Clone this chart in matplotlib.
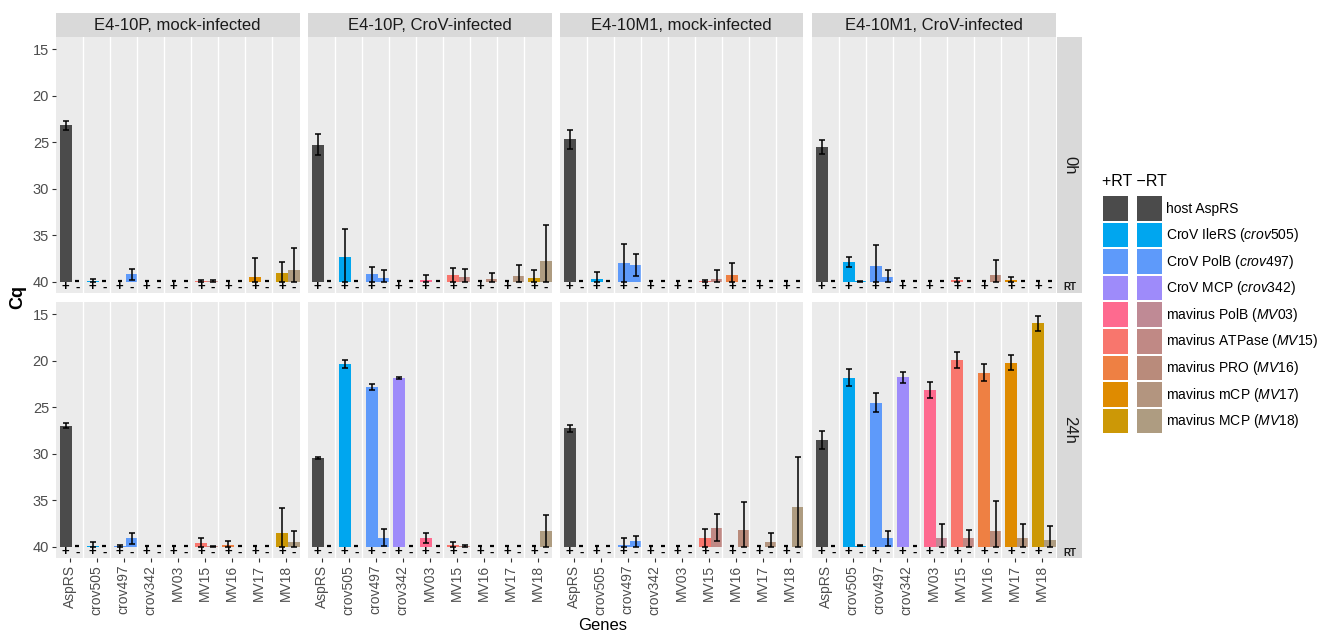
import matplotlib
matplotlib.use("Agg")
import matplotlib.pyplot as plt
from matplotlib.patches import Rectangle

plt.rcParams['font.family'] = ['Liberation Sans', 'DejaVu Sans']
plt.rcParams['mathtext.fontset'] = 'custom'
plt.rcParams['mathtext.rm'] = 'Liberation Sans'
plt.rcParams['mathtext.it'] = 'Liberation Sans:italic'

# ---------------- data ----------------
genes = ["AspRS", "crov505", "crov497", "crov342", "MV03", "MV15", "MV16", "MV17", "MV18"]
samples = ["E4-10P, mock-infected", "E4-10P, CroV-infected",
           "E4-10M1, mock-infected", "E4-10M1, CroV-infected"]
times = ["0h", "24h"]
N = None

# mean Cq, one list per sample (order as in `samples`), one value per gene; None = not detected
cq_0h_plus = [
    [23.2, 39.9, N, N, N, 39.9, N, 39.45, 39.1],
    [25.25, 37.3, 39.2, N, 39.8, 39.3, N, N, 39.55],
    [24.7, 39.65, 37.95, N, N, 39.9, 39.3, N, N],
    [25.55, 37.9, 38.3, N, N, 39.8, N, 39.8, N],
]
sd_0h_plus = [
    [0.5, 0.2, N, N, N, 0.15, N, 2.0, 1.25],
    [1.15, 3.0, 0.8, N, 0.5, 0.8, N, N, 0.85],
    [1.0, 0.75, 2.05, N, N, 0.1, 1.3, N, N],
    [0.75, 0.55, 2.3, N, N, 0.25, N, 0.35, N],
]
cq_0h_minus = [
    [N, N, 39.2, N, N, 39.9, N, N, 38.75],
    [N, N, 39.55, N, N, 39.5, 39.7, 39.35, 37.8],
    [N, N, 38.2, N, N, 39.7, N, N, N],
    [N, 39.95, 39.5, N, N, N, 39.25, N, N],
]
sd_0h_minus = [
    [N, N, 0.6, N, N, 0.15, N, N, 2.35],
    [N, N, 0.8, N, N, 0.9, 0.7, 1.15, 3.9],
    [N, N, 1.2, N, N, 0.95, N, N, N],
    [N, 0.05, 0.75, N, N, N, 1.55, N, N],
]
cq_24h_plus = [
    [27.0, 39.9, 39.95, N, N, 39.6, 39.85, N, 38.5],
    [30.43, 20.37, 22.8, 21.9, 39.03, 39.8, N, N, N],
    [27.28, N, 39.8, N, N, 39.1, N, N, N],
    [28.53, 21.84, 24.5, 21.8, 23.16, 19.94, 21.3, 20.2, 16.0],
]
sd_24h_plus = [
    [0.25, 0.45, 0.2, N, N, 0.5, 0.5, N, 2.7],
    [0.1, 0.43, 0.3, 0.1, 0.55, 0.35, N, N, N],
    [0.35, N, 0.7, N, N, 1.0, N, N, N],
    [1.0, 0.9, 1.05, 0.6, 0.85, 0.85, 0.9, 0.8, 0.8],
]
cq_24h_minus = [
    [N, N, 39.1, N, N, 39.95, N, N, 39.45],
    [N, N, 39.03, N, N, 39.9, N, N, 38.3],
    [N, N, 39.4, N, N, 37.95, 38.2, 39.5, 35.7],
    [N, 39.9, 39.1, N, 39.1, 39.1, 38.27, 39.1, 39.3],
]
sd_24h_minus = [
    [N, N, 0.6, N, N, 0.05, N, N, 1.1],
    [N, N, 0.93, N, N, 0.1, N, N, 1.7],
    [N, N, 0.6, N, N, 1.45, 3.0, 1.0, 5.3],
    [N, 0.05, 0.8, N, 1.6, 0.9, 3.2, 1.6, 1.5],
]

legend_names = ["host AspRS", "CroV IleRS", "CroV PolB", "CroV MCP", "mavirus PolB",
                "mavirus ATPase", "mavirus PRO", "mavirus mCP", "mavirus MCP"]
legend_ids = [None, "crov505", "crov497", "crov342", "MV03", "MV15", "MV16", "MV17", "MV18"]
colors_plus = ["#4B4B4B", "#00A6EF", "#5E9AFA", "#9E8BFA", "#FE6A8F",
               "#F8766D", "#EE8043", "#DF8B00", "#CC9806"]
colors_minus = ["#4B4B4B", "#00A6EF", "#5E9AFA", "#9E8BFA", "#BF8A95",
                "#C08985", "#B98B7B", "#B3957F", "#AE9C81"]

yticks = [15, 20, 25, 30, 35, 40]

data = {
    "0h": (cq_0h_plus, sd_0h_plus, cq_0h_minus, sd_0h_minus),
    "24h": (cq_24h_plus, sd_24h_plus, cq_24h_minus, sd_24h_minus),
}

# ---------------- layout ----------------
W, H = 1317, 636
fig = plt.figure(figsize=(W / 100, H / 100), dpi=100)


def fbox(x0, y0, x1, y1):
    return [x0 / W, 1 - y1 / H, (x1 - x0) / W, (y1 - y0) / H]


def fpt(x, y):
    return x / W, 1 - y / H


col_x = [(56, 299.5), (308, 551.5), (560, 803.5), (812, 1055.5)]
row_y = [(37, 293), (302, 558)]
GW = 2.4          # width of one gene block
XP, XM, BW = 0.85, 1.9, 1.05
YLIM = (41.2, 13.7)
ROW_Y = 40.6

for r, t in enumerate(times):
    cqp, sdp, cqm, sdm = data[t]
    for c, s in enumerate(samples):
        x0, x1 = col_x[c]
        y0, y1 = row_y[r]
        ax = fig.add_axes(fbox(x0, y0, x1, y1))
        ax.set_facecolor("#EBEBEB")
        for sp in ax.spines.values():
            sp.set_visible(False)
        ax.set_xlim(0, GW * len(genes))
        ax.set_ylim(*YLIM)

        for g in range(len(genes)):
            base = g * GW
            for vals, sds, xoff, cols in ((cqp, sdp, XP, colors_plus),
                                          (cqm, sdm, XM, colors_minus)):
                v = vals[c][g]
                x = base + xoff
                if v is None:
                    # not-detected marker: a short dash at Cq 40
                    ax.plot([x], [39.93], marker="_", markersize=3.2,
                            markeredgewidth=1.6, color="black", zorder=4)
                else:
                    sd = sds[c][g]
                    ax.bar(x, v - 40, bottom=40, width=BW, color=cols[g],
                           linewidth=0, zorder=2)
                    lo = min(v + sd, 40) - v
                    ax.errorbar([x], [v], yerr=[[sd], [lo]], fmt="none",
                                ecolor="black", elinewidth=1.1, capsize=2.0,
                                capthick=1.1, zorder=3)
            ax.text(base + XP, ROW_Y, "+", ha="center", va="center", fontsize=9.5,
                    fontweight="bold", color="black", zorder=4)
            ax.text(base + XM, ROW_Y, "-", ha="center", va="center", fontsize=9.5,
                    fontweight="bold", color="black", zorder=4)
        for g in range(1, len(genes)):
            ax.axvline(g * GW, color="white", linewidth=1.0, zorder=5)

        # y axis
        ax.set_yticks(yticks)
        if c == 0:
            ax.tick_params(axis="y", length=2.75, width=0.8, color="#333333",
                           labelcolor="#4D4D4D", labelsize=10.5, pad=2.2)
        else:
            ax.tick_params(axis="y", length=0, labelleft=False)
        # x axis
        ax.set_xticks([g * GW + GW / 2 for g in range(len(genes))])
        if r == 1:
            ax.set_xticklabels(genes, rotation=90, va="top", ha="center")
            ax.tick_params(axis="x", length=2.75, width=0.8, color="#333333",
                           labelcolor="#4D4D4D", labelsize=10, pad=2.2)
        else:
            ax.tick_params(axis="x", length=0, labelbottom=False)

        # top strips
        if r == 0:
            fig.add_artist(Rectangle(fpt(x0, 37), (x1 - x0) / W, 24 / H,
                                     transform=fig.transFigure,
                                     facecolor="#D9D9D9", edgecolor="none"))
            fig.text(*fpt((x0 + x1) / 2, 25), s, ha="center", va="center",
                     fontsize=12, color="#1A1A1A")

    # right strips
    y0, y1 = row_y[r]
    fig.add_artist(Rectangle(fpt(1057, y1), 25 / W, (y1 - y0) / H,
                             transform=fig.transFigure,
                             facecolor="#D9D9D9", edgecolor="none"))
    fig.text(*fpt(1069.5, (y0 + y1) / 2), t, ha="center", va="center",
             rotation=270, fontsize=12, color="#1A1A1A")
    fig.text(*fpt(1069.5, y1 - 5.5), "RT", ha="center", va="center",
             fontsize=7, fontweight="bold", color="#1A1A1A")

# axis titles
fig.text(*fpt(18, 297), "Cq", rotation=90, ha="center", va="center",
         fontsize=13, fontweight="bold", color="black")
fig.text(*fpt(603, 625), "Genes", ha="center", va="center",
         fontsize=12, color="black")

# legend
fig.text(*fpt(1102, 181), "+RT \u2212RT", ha="left", va="center",
         fontsize=11.5, color="black")
for i, name in enumerate(legend_names):
    yt = 196 + i * 26.6
    fig.add_artist(Rectangle(fpt(1103, yt + 24.5), 25 / W, 24.5 / H,
                             transform=fig.transFigure,
                             facecolor=colors_plus[i], edgecolor="none"))
    fig.add_artist(Rectangle(fpt(1137, yt + 24.5), 25 / W, 24.5 / H,
                             transform=fig.transFigure,
                             facecolor=colors_minus[i], edgecolor="none"))
    gid = legend_ids[i]
    label = name if gid is None else name + " ($\\mathit{" + gid + "}$)"
    fig.text(*fpt(1166, yt + 12.5), label, ha="left", va="center",
             fontsize=10, color="black")

fig.savefig("out.png", dpi=100)
